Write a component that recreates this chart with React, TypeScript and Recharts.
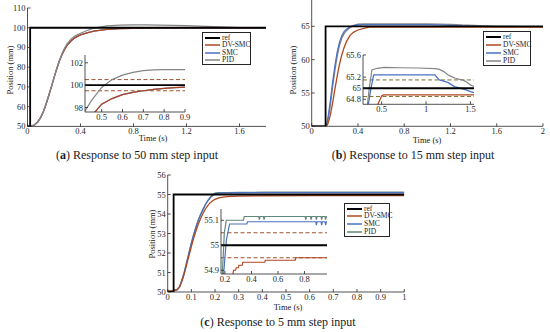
import React from "react";
import { LineChart, Line, XAxis, YAxis, ReferenceLine, Legend } from "recharts";

const SERIF = '"Liberation Serif", "Times New Roman", serif';
const AXIS = "#262626";
const REF = "#000000";
const DV = "#b0471f";
const SMC = "#4a72c0";
const PID = "#858585";
const PID_C = "#62887a";
const BAND = "#a0522d";
const BAND_B = "#7a6e2e";

// (a) 50 mm step
const aXTicks = [0, 0.4, 0.8, 1.2, 1.6];
const aYTicks = [50, 60, 70, 80, 90, 100, 110];
const aRefT = [0, 0.02, 0.02, 1.8];
const aRefV = [50, 50, 100, 100];
const aT = [0, 0.02, 0.05, 0.08, 0.1, 0.12, 0.14, 0.16, 0.18, 0.2, 0.22, 0.24, 0.26, 0.28, 0.3, 0.33, 0.36, 0.4, 0.45, 0.5, 0.6, 0.7, 0.8, 0.9, 1.0, 1.2, 1.4, 1.6, 1.8];
const aDv = [50, 50, 50.6, 52.5, 54.6, 57.5, 61.2, 65.5, 70, 74.6, 79, 83, 86.3, 89, 91.2, 93.4, 95, 96.4, 97.4, 98.3, 99.15, 99.5, 99.72, 99.82, 99.88, 99.95, 99.98, 100, 100];
const aSmc = [50, 50, 50.6, 52.5, 54.6, 57.5, 61.2, 65.5, 70, 74.6, 79, 83, 86.3, 89, 91.2, 93.4, 95, 96.4, 97.4, 98.3, 99.15, 99.5, 99.72, 99.82, 99.88, 99.95, 99.98, 100, 100];
const aPid = [50, 50, 50.6, 52.5, 54.6, 57.5, 61.2, 65.5, 70, 74.7, 79.2, 83.3, 86.8, 89.7, 92.0, 94.3, 95.9, 97.2, 98.6, 99.8, 100.9, 101.3, 101.4, 101.4, 101.35, 101.1, 100.6, 100.1, 100];
// (a) inset
const iaXTicks = [0.5, 0.6, 0.7, 0.8, 0.9];
const iaYTicks = [98, 100, 102];
const iaT = [0.42, 0.45, 0.5, 0.55, 0.6, 0.65, 0.7, 0.75, 0.8, 0.85, 0.9];
const iaPid = [97.7, 98.6, 99.8, 100.5, 100.9, 101.15, 101.3, 101.37, 101.4, 101.4, 101.4];
const iaDv = [96.7, 97.2, 98.3, 98.8, 99.15, 99.35, 99.5, 99.62, 99.72, 99.78, 99.82];
const iaSmc = [96.7, 97.2, 98.3, 98.8, 99.15, 99.35, 99.5, 99.62, 99.72, 99.78, 99.82];
const aBand = [99.5, 100.5];

// (b) 15 mm step
const bXTicks = [0, 0.4, 0.8, 1.2, 1.6, 2];
const bYTicks = [50, 55, 60, 65];
const bRefT = [0, 0.12, 0.12, 2];
const bRefV = [50, 50, 65, 65];
const bT = [0, 0.12, 0.13, 0.14, 0.16, 0.18, 0.2, 0.22, 0.24, 0.26, 0.28, 0.3, 0.33, 0.36, 0.4, 0.45, 0.5, 0.6, 0.8, 1.0, 1.1, 1.2, 1.3, 1.4, 1.5, 1.6, 1.8, 2.0];
const bSmc = [50, 50, 50.35, 51.2, 53.6, 56.5, 59.0, 61.1, 62.6, 63.6, 64.2, 64.55, 64.9, 65.1, 65.2, 65.24, 65.24, 65.24, 65.24, 65.24, 65.22, 65.14, 65.06, 65.0, 64.94, 64.93, 64.95, 64.96];
const bPid = [50, 50, 50.2, 50.9, 53.0, 55.8, 58.3, 60.5, 62.1, 63.2, 63.9, 64.35, 64.8, 65.1, 65.33, 65.37, 65.37, 65.37, 65.36, 65.36, 65.34, 65.3, 65.2, 65.15, 65.06, 65.0, 64.95, 64.93];
const bDv = [50, 50, 50.1, 50.4, 51.6, 53.4, 55.5, 57.5, 59.3, 60.7, 61.8, 62.7, 63.6, 64.1, 64.45, 64.68, 64.87, 64.88, 64.88, 64.88, 64.88, 64.88, 64.88, 64.88, 64.88, 64.88, 64.88, 64.88];
// (b) inset
const ibXTicks = [0.5, 1, 1.5];
const ibYTicks = [64.8, 65, 65.2, 65.6];
const ibPidT = [0.29, 0.34, 0.36, 0.39, 0.45, 0.53, 0.7, 0.9, 1.1, 1.15, 1.2, 1.25, 1.3, 1.33, 1.38, 1.41, 1.45, 1.5, 1.54];
const ibPid = [64.0, 64.71, 65.0, 65.33, 65.36, 65.375, 65.37, 65.365, 65.355, 65.34, 65.3, 65.24, 65.2, 65.18, 65.16, 65.15, 65.12, 65.06, 65.03];
const ibSmcT = [0.29, 0.35, 0.38, 0.41, 0.6, 0.8, 1.0, 1.1, 1.12, 1.15, 1.2, 1.25, 1.32, 1.38, 1.45, 1.5, 1.54];
const ibSmc = [63.8, 64.71, 65.0, 65.24, 65.24, 65.24, 65.24, 65.24, 65.2, 65.15, 65.13, 65.1, 65.03, 65.0, 64.97, 64.94, 64.92];
const ibDvT = [0.29, 0.45, 0.46, 0.5, 0.52, 0.6, 1.0, 1.54];
const ibDv = [63.0, 64.68, 64.72, 64.86, 64.88, 64.88, 64.88, 64.88];
const bBand = [64.85, 65.15];

// (c) 5 mm step
const cXTicks = [0, 0.1, 0.2, 0.3, 0.4, 0.5, 0.6, 0.7, 0.8, 0.9, 1];
const cYTicks = [50, 51, 52, 53, 54, 55, 56];
const cRefT = [0, 0.025, 0.025, 1];
const cRefV = [50, 50, 55, 55];
const cT = [0, 0.02, 0.03, 0.04, 0.05, 0.06, 0.07, 0.08, 0.09, 0.1, 0.11, 0.12, 0.13, 0.14, 0.15, 0.16, 0.17, 0.18, 0.19, 0.2, 0.22, 0.25, 0.3, 0.4, 0.6, 0.8, 1.0];
const cSmc = [50.05, 50.07, 50.1, 50.12, 50.27, 50.6, 51.0, 51.5, 52.0, 52.5, 52.95, 53.35, 53.7, 54.0, 54.25, 54.5, 54.68, 54.83, 54.95, 55.04, 55.085, 55.085, 55.09, 55.094, 55.094, 55.094, 55.094];
const cPid = [50.05, 50.07, 50.1, 50.12, 50.27, 50.6, 51.0, 51.5, 52.0, 52.5, 52.95, 53.35, 53.7, 54.0, 54.25, 54.5, 54.7, 54.86, 54.98, 55.07, 55.1, 55.1, 55.105, 55.115, 55.115, 55.115, 55.115];
const cDv = [50.05, 50.07, 50.1, 50.12, 50.25, 50.55, 50.93, 51.4, 51.87, 52.33, 52.76, 53.15, 53.5, 53.8, 54.05, 54.27, 54.44, 54.58, 54.68, 54.75, 54.84, 54.89, 54.92, 54.933, 54.94, 54.95, 54.95];
// (c) inset
const icXTicks = [0.2, 0.4, 0.6, 0.8];
const icYTicks = [54.9, 55, 55.1];
const icPidT = [0.17, 0.18, 0.195, 0.21, 0.34, 0.345, 0.455, 0.46, 0.465, 0.49, 0.495, 0.5, 0.805, 0.81, 0.815, 0.845, 0.85, 0.855, 0.885, 0.89, 0.895, 0.925, 0.93, 0.935, 0.955, 0.96, 0.965, 0.97];
const icPid = [54.75, 54.885, 55.05, 55.1, 55.1, 55.115, 55.115, 55.103, 55.115, 55.115, 55.103, 55.115, 55.115, 55.103, 55.115, 55.115, 55.103, 55.115, 55.115, 55.103, 55.115, 55.115, 55.103, 55.115, 55.115, 55.103, 55.115, 55.115];
const icSmcT = [0.17, 0.19, 0.21, 0.235, 0.365, 0.37, 0.885, 0.89, 0.895, 0.925, 0.93, 0.935, 0.955, 0.96, 0.965, 0.97];
const icSmc = [54.7, 54.885, 55.02, 55.085, 55.085, 55.094, 55.094, 55.08, 55.094, 55.094, 55.08, 55.094, 55.094, 55.08, 55.094, 55.094];
const icDvT = [0.24, 0.26, 0.265, 0.28, 0.285, 0.3, 0.305, 0.33, 0.335, 0.5, 0.505, 0.73, 0.735, 0.97];
const icDv = [54.86, 54.885, 54.9, 54.9, 54.91, 54.91, 54.92, 54.92, 54.932, 54.932, 54.94, 54.94, 54.95, 54.95];
const cBand = [54.95, 55.05];

const LEGEND_ORDER = ["ref", "DV-SMC", "SMC", "PID"];

type Curve = { name: string; t: number[]; v: number[]; color: string; w: number };
type Box = { x: number; y: number; w: number; h: number };

const pts = (t: number[], v: number[]) => t.map((x, i) => ({ t: x, v: v[i] }));

function LegendBox({ items, w, h }: { items: Curve[]; w: number; h: number }) {
  const rows = LEGEND_ORDER.map((n) => items.find((c) => c.name === n)!).filter(Boolean);
  return (
    <div
      style={{
        width: w,
        height: h,
        boxSizing: "border-box",
        border: `0.8px solid ${AXIS}`,
        background: "#fff",
        padding: "1px 0 0 2px",
        whiteSpace: "nowrap",
      }}
    >
      {rows.map((c) => (
        <div key={c.name} style={{ display: "flex", alignItems: "center", height: (h - 3) / 4 }}>
          <svg width={15} height={4} style={{ display: "block", flex: "none" }}>
            <line x1={0} y1={2} x2={15} y2={2} stroke={c.color} strokeWidth={c.name === "ref" ? 2 : 1.5} />
          </svg>
          <span
            style={{ marginLeft: 2, fontSize: 7.5, lineHeight: "8px", fontFamily: SERIF, color: AXIS, whiteSpace: "nowrap" }}
          >
            {c.name}
          </span>
        </div>
      ))}
    </div>
  );
}

interface PlotProps {
  box: Box;
  yw: number;
  xh: number;
  xd: [number, number];
  yd: [number, number];
  xt: number[];
  yt: number[];
  curves: Curve[];
  band?: number[];
  bandColor?: string;
  inset?: boolean;
  legend?: Box;
}

function Plot(p: PlotProps) {
  const mt = 4;
  const mr = 6;
  const left = p.box.x - p.yw;
  const top = p.box.y - mt;
  const width = p.yw + p.box.w + mr;
  const height = mt + p.box.h + p.xh;
  const tick = { fontSize: 8.5, fill: AXIS, fontFamily: SERIF };
  return (
    <div style={{ position: "absolute", left, top, width, height }}>
      {p.inset && (
        <div
          style={{ position: "absolute", left: p.yw, top: mt, width: p.box.w, height: p.box.h, background: "#fff" }}
        />
      )}
      <LineChart width={width} height={height} margin={{ top: mt, right: mr, bottom: 0, left: 0 }}>
        <XAxis
          xAxisId="b"
          dataKey="t"
          type="number"
          domain={p.xd}
          ticks={p.xt}
          interval={0}
          allowDataOverflow
          height={p.xh}
          stroke={AXIS}
          strokeWidth={0.8}
          tickSize={-3}
          tickMargin={5}
          tick={tick}
        />
        <XAxis
          xAxisId="t"
          orientation="top"
          dataKey="t"
          type="number"
          domain={p.xd}
          ticks={p.xt}
          interval={0}
          allowDataOverflow
          height={0}
          stroke={AXIS}
          strokeWidth={0.8}
          tickSize={-3}
          tick={false}
        />
        <YAxis
          yAxisId="l"
          type="number"
          domain={p.yd}
          ticks={p.yt}
          interval={0}
          allowDataOverflow
          width={p.yw}
          stroke={AXIS}
          strokeWidth={0.8}
          tickSize={-3}
          tickMargin={5}
          tick={tick}
        />
        <YAxis
          yAxisId="r"
          orientation="right"
          type="number"
          domain={p.yd}
          ticks={p.yt}
          interval={0}
          allowDataOverflow
          width={0}
          stroke={AXIS}
          strokeWidth={0.8}
          tickSize={-3}
          tick={false}
        />
        {(p.band || []).map((y) => (
          <ReferenceLine
            key={y}
            xAxisId="b"
            yAxisId="l"
            y={y}
            stroke={p.bandColor}
            strokeWidth={1}
            strokeDasharray="4 2.5"
          />
        ))}
        {p.curves.map((c) => (
          <Line
            key={c.name}
            xAxisId="b"
            yAxisId="l"
            data={pts(c.t, c.v)}
            dataKey="v"
            name={c.name}
            type="linear"
            stroke={c.color}
            strokeWidth={c.w}
            dot={false}
            activeDot={false}
            isAnimationActive={false}
          />
        ))}
        {p.legend && (
          <Legend
            layout="vertical"
            align="center"
            verticalAlign="middle"
            wrapperStyle={{ left: p.legend.x - left, top: p.legend.y - top, width: p.legend.w, height: p.legend.h }}
            content={() => <LegendBox items={p.curves} w={p.legend!.w} h={p.legend!.h} />}
          />
        )}
      </LineChart>
    </div>
  );
}

function Txt({ x, y, size, rotate, children }: { x: number; y: number; size: number; rotate?: boolean; children: React.ReactNode }) {
  return (
    <div
      style={{
        position: "absolute",
        left: x,
        top: y,
        transform: `translate(-50%, -50%)${rotate ? " rotate(-90deg)" : ""}`,
        fontSize: size,
        lineHeight: 1,
        whiteSpace: "nowrap",
        color: "#1a1a1a",
      }}
    >
      {children}
    </div>
  );
}

const mainCurves = (
  t: number[],
  dv: number[],
  smc: number[],
  pid: number[],
  rt: number[],
  rv: number[],
  pidColor: string,
  pidFirst: boolean,
): Curve[] => {
  const s = { name: "SMC", t, v: smc, color: SMC, w: 1.3 };
  const d = { name: "DV-SMC", t, v: dv, color: DV, w: 1.3 };
  const p = { name: "PID", t, v: pid, color: pidColor, w: 1.3 };
  const r = { name: "ref", t: rt, v: rv, color: REF, w: 1.8 };
  return pidFirst ? [p, s, d, r] : [s, d, p, r];
};

export default function App() {
  const aCurves = mainCurves(aT, aDv, aSmc, aPid, aRefT, aRefV, PID, false);
  const bCurves = mainCurves(bT, bDv, bSmc, bPid, bRefT, bRefV, PID, true);
  const cCurves = mainCurves(cT, cDv, cSmc, cPid, cRefT, cRefV, PID_C, true);
  const iaCurves: Curve[] = [
    { name: "SMC", t: iaT, v: iaSmc, color: SMC, w: 1.2 },
    { name: "DV-SMC", t: iaT, v: iaDv, color: DV, w: 1.2 },
    { name: "PID", t: iaT, v: iaPid, color: PID, w: 1.2 },
    { name: "ref", t: aRefT, v: aRefV, color: REF, w: 1.8 },
  ];
  const ibCurves: Curve[] = [
    { name: "SMC", t: ibSmcT, v: ibSmc, color: SMC, w: 1.3 },
    { name: "DV-SMC", t: ibDvT, v: ibDv, color: DV, w: 1.2 },
    { name: "PID", t: ibPidT, v: ibPid, color: PID, w: 1.2 },
    { name: "ref", t: bRefT, v: bRefV, color: REF, w: 1.8 },
  ];
  const icCurves: Curve[] = [
    { name: "SMC", t: icSmcT, v: icSmc, color: SMC, w: 1.2 },
    { name: "DV-SMC", t: icDvT, v: icDv, color: DV, w: 1.2 },
    { name: "PID", t: icPidT, v: icPid, color: PID_C, w: 1.2 },
    { name: "ref", t: cRefT, v: cRefV, color: REF, w: 1.8 },
  ];

  return (
    <div
      style={{
        position: "absolute",
        left: 0,
        top: 0,
        width: 550,
        height: 332,
        overflow: "hidden",
        background: "#fff",
        fontFamily: SERIF,
      }}
    >
      {/* (a) */}
      <Plot
        box={{ x: 27.5, y: 7.6, w: 238.5, h: 118.4 }}
        yw={27.5}
        xh={20}
        xd={[0, 1.8]}
        yd={[50, 110]}
        xt={aXTicks}
        yt={aYTicks}
        curves={aCurves}
        legend={{ x: 202, y: 32, w: 49, h: 33 }}
      />
      <Plot
        inset
        box={{ x: 85, y: 55, w: 100, h: 57 }}
        yw={20}
        xh={14}
        xd={[0.42, 0.9]}
        yd={[97.6, 102.7]}
        xt={iaXTicks}
        yt={iaYTicks}
        curves={iaCurves}
        band={aBand}
        bandColor={BAND}
      />
      <Txt x={10} y={70} size={8.5} rotate>Position (mm)</Txt>
      <Txt x={153} y={137.5} size={8.5}>Time (s)</Txt>
      <Txt x={137} y={155} size={12}>(<b>a</b>) Response to 50 mm step input</Txt>

      {/* (b) */}
      <Plot
        box={{ x: 311.7, y: -6.6, w: 231.3, h: 133.3 }}
        yw={27.7}
        xh={20}
        xd={[0, 2]}
        yd={[50, 70]}
        xt={bXTicks}
        yt={bYTicks}
        curves={bCurves}
        legend={{ x: 483, y: 31, w: 48, h: 35 }}
      />
      <Plot
        inset
        box={{ x: 363.3, y: 55, w: 111, h: 49.3 }}
        yw={20}
        xh={14}
        xd={[0.29, 1.54]}
        yd={[64.71, 65.6]}
        xt={ibXTicks}
        yt={ibYTicks}
        curves={ibCurves}
        band={bBand}
        bandColor={BAND_B}
      />
      <Txt x={293} y={70} size={8.5} rotate>Position (mm)</Txt>
      <Txt x={427} y={140} size={8.5}>Time (s)</Txt>
      <Txt x={413} y={155} size={12}>(<b>b</b>) Response to 15 mm step input</Txt>

      {/* (c) */}
      <Plot
        box={{ x: 167.7, y: 175, w: 236.6, h: 117 }}
        yw={27.7}
        xh={20}
        xd={[0, 1]}
        yd={[50, 56]}
        xt={cXTicks}
        yt={cYTicks}
        curves={cCurves}
        legend={{ x: 344, y: 203, w: 46, h: 33.5 }}
      />
      <Plot
        inset
        box={{ x: 221, y: 209, w: 106, h: 65 }}
        yw={20}
        xh={14}
        xd={[0.17, 0.97]}
        yd={[54.885, 55.145]}
        xt={icXTicks}
        yt={icYTicks}
        curves={icCurves}
        band={cBand}
        bandColor={BAND}
      />
      <Txt x={152} y={234} size={8.5} rotate>Position (mm)</Txt>
      <Txt x={288} y={306.5} size={8.5}>Time (s)</Txt>
      <Txt x={278} y={322} size={12}>(<b>c</b>) Response to 5 mm step input</Txt>
    </div>
  );
}
